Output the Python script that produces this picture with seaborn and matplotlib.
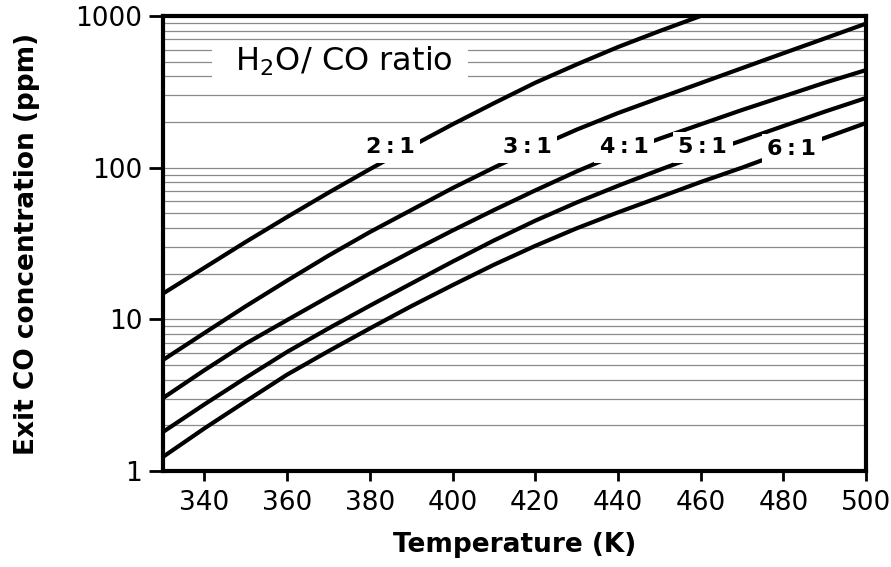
import numpy as np
import pandas as pd
import matplotlib
matplotlib.use("Agg")
import matplotlib.pyplot as plt
import seaborn as sns
from matplotlib.ticker import FixedLocator, LogLocator, NullFormatter, FixedFormatter

# ---- data ----
temps = [330, 340, 350, 360, 370, 380, 390, 400, 410, 420, 430, 440, 450, 460, 470, 480, 490, 500]
temps_2to1 = [330, 340, 350, 360, 370, 380, 390, 400, 410, 420, 430, 440, 450, 460]
ratio_2to1 = [14.8, 21.9, 32.4, 47.3, 68.4, 97.7, 138, 193, 266, 363, 479, 624, 794, 1000]
ratio_3to1 = [5.40, 8.13, 12.2, 18.0, 26.3, 37.6, 52.5, 73.3, 100, 135, 178, 229, 288, 361, 453, 568, 711, 891]
ratio_4to1 = [3.03, 4.62, 6.92, 9.89, 14.1, 20.0, 27.9, 38.5, 52.5, 70.8, 94.4, 123, 155, 193, 240, 295, 363, 440]
ratio_5to1 = [1.81, 2.75, 4.12, 6.10, 8.71, 12.3, 17.2, 24.0, 33.1, 44.7, 58.9, 75.9, 96.6, 122, 151, 188, 234, 288]
ratio_6to1 = [1.24, 1.91, 2.88, 4.32, 6.17, 8.71, 12.2, 16.8, 22.9, 30.5, 39.8, 50.7, 63.8, 80.4, 100, 126, 157, 197]

series_names = ["2:1", "3:1", "4:1", "5:1", "6:1"]
label_texts = ["2\u2009:\u20091", "3\u2009:\u20091", "4\u2009:\u20091", "5\u2009:\u20091", "6\u2009:\u20091"]
label_temps = [385, 418, 441.5, 460.5, 482]
label_ppm = [136, 136, 136, 136, 132]

x_ticks = [340, 360, 380, 400, 420, 440, 460, 480, 500]
y_ticks = [1, 10, 100, 1000]
y_tick_labels = ["1", "10", "100", "1000"]

frames = []
for name, tt, vals in zip(series_names,
                          [temps_2to1, temps, temps, temps, temps],
                          [ratio_2to1, ratio_3to1, ratio_4to1, ratio_5to1, ratio_6to1]):
    frames.append(pd.DataFrame({"T": tt, "ppm": vals, "ratio": name}))
df = pd.concat(frames, ignore_index=True)

sns.set_style("white")
plt.rcParams["font.family"] = ["DejaVu Sans"]
plt.rcParams["text.color"] = "black"
plt.rcParams["axes.labelcolor"] = "black"
plt.rcParams["xtick.color"] = "black"
plt.rcParams["ytick.color"] = "black"

fig = plt.figure(figsize=(8.91, 5.67), dpi=100)
ax = fig.add_axes([0.183, 0.1693, 0.789, 0.8025])

sns.lineplot(data=df, x="T", y="ppm", hue="ratio", palette=["black"] * 5,
             linewidth=3.0, legend=False, ax=ax, zorder=3, sort=False)

ax.set_yscale("log")
ax.set_xlim(330, 500)
ax.set_ylim(1, 1000)

ax.yaxis.set_major_locator(FixedLocator(y_ticks))
ax.yaxis.set_major_formatter(FixedFormatter(y_tick_labels))
ax.yaxis.set_minor_locator(LogLocator(base=10, subs=np.arange(2, 10)))
ax.yaxis.set_minor_formatter(NullFormatter())
ax.xaxis.set_major_locator(FixedLocator(x_ticks))

ax.set_axisbelow(True)
ax.yaxis.grid(True, which="both", color="#8a8a8a", linewidth=0.9)
ax.xaxis.grid(False)

ax.tick_params(axis="y", which="major", direction="out", length=10, width=2,
               labelsize=19, pad=5, left=True, color="black", labelcolor="black")
ax.tick_params(axis="y", which="minor", length=0)
ax.tick_params(axis="x", which="major", direction="out", length=7, width=2,
               labelsize=19, pad=7, bottom=True, color="black", labelcolor="black")

for sp in ax.spines.values():
    sp.set_visible(True)
    sp.set_color("black")
    sp.set_linewidth(3.0)

ax.set_xlabel("Temperature (K)", fontsize=19, fontweight="bold", labelpad=11)
ax.set_ylabel("Exit CO concentration (ppm)", fontsize=19, fontweight="bold")
ax.yaxis.set_label_coords(-0.175, 0.5)

for txt, tx, ty in zip(label_texts, label_temps, label_ppm):
    ax.text(tx, ty, txt, fontsize=16, fontweight="bold", ha="center", va="center",
            zorder=5, bbox=dict(boxstyle="square,pad=0.25", fc="white", ec="none"))

ax.text(372.8, 505, "  H$_2$O/ CO ratio  ", fontsize=23, ha="center", va="center",
        zorder=5, bbox=dict(boxstyle="square,pad=0.1", fc="white", ec="none"))

fig.savefig("out.png", dpi=100)
